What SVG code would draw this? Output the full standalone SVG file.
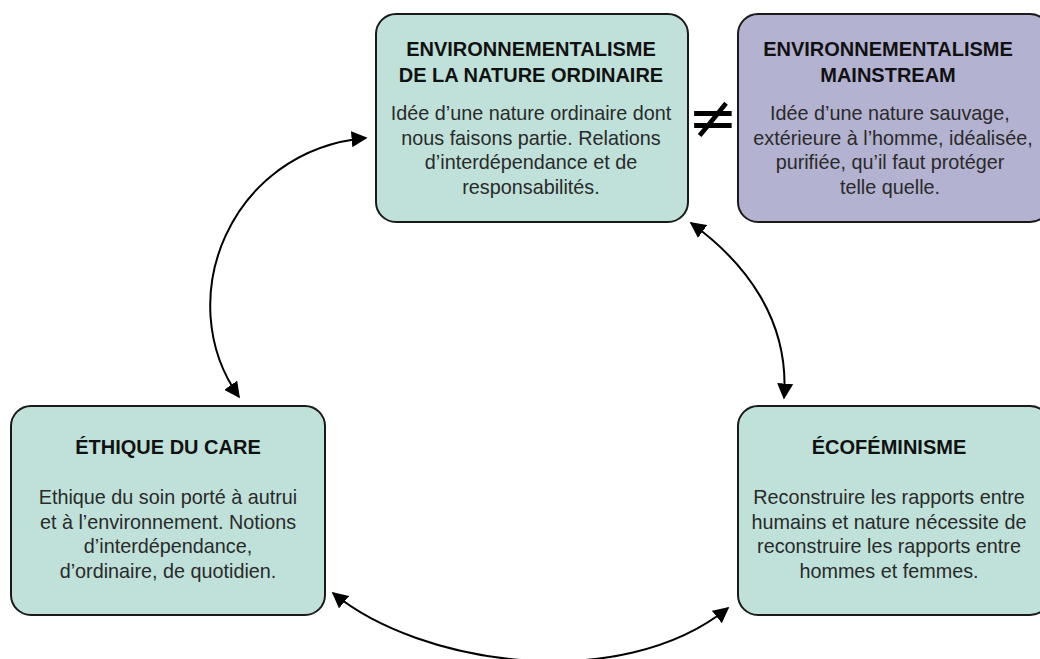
<svg xmlns="http://www.w3.org/2000/svg" width="1040" height="659" viewBox="0 0 1040 659">
<style>
.box{stroke:#1a1a1a;stroke-width:2}
.teal{fill:#bfe1d9}
.purple{fill:#b3b2d1}
.title{font-family:"Liberation Sans",Arial,sans-serif;font-weight:bold;font-size:20px;fill:#111;text-anchor:middle}
.body{font-family:"Liberation Sans",Arial,sans-serif;font-size:19.8px;fill:#2a2a2a;text-anchor:middle}
.conn{fill:none;stroke:#000;stroke-width:2}
.neq{font-family:"DejaVu Sans",sans-serif;font-size:60px;fill:#000;text-anchor:middle}
</style>
<defs>
<marker id="ah" viewBox="0 0 10 10" refX="9" refY="5" markerUnits="userSpaceOnUse" markerWidth="16" markerHeight="16" orient="auto-start-reverse">
<path d="M0,0 L10,5 L0,10 z" fill="#000"/>
</marker>
</defs>
<rect width="1040" height="659" fill="#fff"/>
<g id="connectors">
<path class="conn" d="M366,138 C230,150 170,300 239,397" marker-start="url(#ah)" marker-end="url(#ah)"/>
<path class="conn" d="M691,223 C745,262 790,320 784,398" marker-start="url(#ah)" marker-end="url(#ah)"/>
<path class="conn" d="M333,593 C420,665 620,695 728,608" marker-start="url(#ah)" marker-end="url(#ah)"/>
</g>
<g id="node-nature-ordinaire">
<rect class="box teal" x="376" y="14" width="312" height="208" rx="20"/>
<text class="title" x="531" y="56">ENVIRONNEMENTALISME</text>
<text class="title" x="531" y="82">DE LA NATURE ORDINAIRE</text>
<text class="body" x="531" y="119.5">Idée d’une nature ordinaire dont</text>
<text class="body" x="531" y="144.5">nous faisons partie. Relations</text>
<text class="body" x="531" y="169">d’interdépendance et de</text>
<text class="body" x="531" y="194">responsabilités.</text>
</g>
<g id="neq">
<text class="neq" x="713" y="138">≠</text>
</g>
<g id="node-mainstream">
<rect class="box purple" x="738" y="14" width="312" height="208" rx="20"/>
<text class="title" x="888" y="56">ENVIRONNEMENTALISME</text>
<text class="title" x="888" y="82">MAINSTREAM</text>
<text class="body" x="890" y="119.5">Idée d’une nature sauvage,</text>
<text class="body" x="893" y="144.5">extérieure à l’homme, idéalisée,</text>
<text class="body" x="890" y="169">purifiée, qu’il faut protéger</text>
<text class="body" x="890" y="194">telle quelle.</text>
</g>
<g id="node-ethique-care">
<rect class="box teal" x="11" y="406" width="314" height="209" rx="20"/>
<text class="title" x="168" y="454">ÉTHIQUE DU CARE</text>
<text class="body" x="168" y="504">Ethique du soin porté à autrui</text>
<text class="body" x="168" y="528.5">et à l’environnement. Notions</text>
<text class="body" x="168" y="553">d’interdépendance,</text>
<text class="body" x="168" y="577.5">d’ordinaire, de quotidien.</text>
</g>
<g id="node-ecofeminisme">
<rect class="box teal" x="738" y="406" width="312" height="209" rx="20"/>
<text class="title" x="889" y="454">ÉCOFÉMINISME</text>
<text class="body" x="889" y="504">Reconstruire les rapports entre</text>
<text class="body" x="889" y="528.5">humains et nature nécessite de</text>
<text class="body" x="889" y="553">reconstruire les rapports entre</text>
<text class="body" x="889" y="577.5">hommes et femmes.</text>
</g>
</svg>
